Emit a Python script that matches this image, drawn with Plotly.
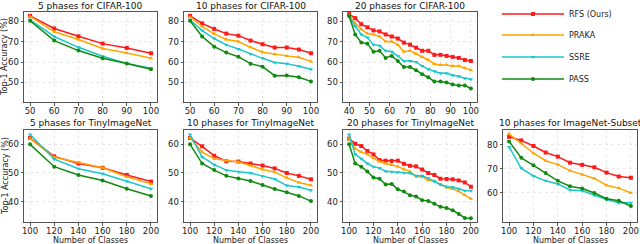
import plotly.graph_objects as go

# ---------------- data ----------------
methods = ["RFS (Ours)", "PRAKA", "SSRE", "PASS"]
colors = ["#ff1a1a", "#ffa500", "#1cc6cc", "#108a10"]
symbols = ["square", "triangle-up", "triangle-down", "circle"]

titles = ["5 phases for CIFAR-100", "10 phases for CIFAR-100", "20 phases for CIFAR-100",
          "5 phases for TinyImageNet", "10 phases for TinyImageNet", "20 phases for TinyImageNet",
          "10 phases for ImageNet-Subset"]
x_label = "Number of Classes"
y_label = "Top-1 Accuracy (%)"

x_c5 = [50, 60, 70, 80, 90, 100]
c5_rfs = [82.6, 76.4, 72.6, 69.0, 66.9, 64.3]
c5_praka = [82.3, 74.8, 71.0, 66.6, 64.4, 61.8]
c5_ssre = [80.7, 72.5, 67.2, 62.8, 59.3, 56.9]
c5_pass = [80.2, 70.5, 65.6, 61.8, 59.3, 56.4]

x_c10 = [50, 55, 60, 65, 70, 75, 80, 85, 90, 95, 100]
c10_rfs = [82.6, 78.9, 76.2, 73.9, 72.9, 70.5, 68.7, 67.1, 67.1, 66.1, 64.3]
c10_praka = [82.1, 77.4, 73.8, 71.0, 70.0, 67.2, 64.8, 63.8, 63.0, 62.3, 60.3]
c10_ssre = [80.7, 75.4, 71.5, 68.4, 66.4, 63.9, 61.8, 59.8, 59.2, 57.9, 56.4]
c10_pass = [80.2, 72.5, 67.5, 64.6, 62.6, 59.2, 57.7, 53.3, 53.4, 52.5, 50.5]

x_c20 = [40, 43, 46, 49, 52, 55, 58, 61, 64, 67, 70, 73, 76, 79, 82, 85, 88, 91, 94, 97, 100]
c20_rfs = [83.5, 81.5, 78.5, 77.0, 75.5, 75.0, 73.5, 72.5, 71.5, 69.5, 68.5, 67.0, 65.5, 65.5,
           63.5, 63.5, 63.0, 62.5, 62.0, 61.0, 60.5]
c20_praka = [83.0, 79.0, 76.0, 74.0, 73.5, 72.5, 70.0, 70.0, 68.5, 65.0, 65.5, 64.0, 62.5, 61.0,
             59.0, 58.5, 58.5, 58.0, 58.0, 57.0, 56.0]
c20_ssre = [82.5, 77.5, 73.5, 72.0, 68.5, 68.0, 65.5, 65.0, 63.0, 60.5, 60.5, 60.0, 58.0, 56.5,
            55.5, 54.5, 54.5, 53.5, 53.0, 52.0, 51.5]
c20_pass = [82.5, 73.5, 69.5, 69.0, 65.0, 65.5, 62.0, 63.0, 60.5, 57.5, 57.5, 56.0, 54.0, 52.5,
            50.5, 50.5, 50.0, 49.0, 48.5, 48.5, 47.0]

x_t5 = [100, 120, 140, 160, 180, 200]
t5_rfs = [62.2, 55.8, 53.3, 51.8, 49.3, 47.0]
t5_praka = [62.0, 55.5, 53.7, 51.8, 48.7, 46.2]
t5_ssre = [63.4, 54.8, 51.5, 49.7, 47.1, 44.5]
t5_pass = [60.0, 52.2, 49.3, 47.4, 44.5, 42.0]

x_t10 = [100, 110, 120, 130, 140, 150, 160, 170, 180, 190, 200]
t10_rfs = [62.2, 59.3, 56.0, 54.1, 54.0, 53.3, 52.6, 51.6, 50.0, 49.0, 47.8]
t10_praka = [62.2, 57.3, 55.0, 54.3, 53.8, 52.6, 51.2, 50.3, 48.3, 46.7, 45.7]
t10_ssre = [63.4, 55.6, 52.9, 51.0, 50.4, 50.0, 48.9, 47.9, 45.6, 45.1, 44.0]
t10_pass = [60.0, 53.3, 51.0, 49.0, 48.1, 47.2, 45.8, 44.4, 43.3, 42.0, 40.2]

x_t20 = [100, 105, 110, 115, 120, 125, 130, 135, 140, 145, 150, 155, 160, 165, 170, 175, 180,
         185, 190, 195, 200]
t20_rfs = [62.0, 60.2, 59.4, 57.7, 56.5, 54.5, 54.3, 54.2, 54.3, 53.2, 52.5, 52.3, 51.2, 50.0,
           49.3, 48.0, 47.9, 47.8, 47.4, 46.7, 45.2]
t20_praka = [62.0, 58.5, 57.3, 56.5, 55.2, 54.0, 53.3, 52.8, 52.3, 51.3, 50.5, 48.8, 48.7, 47.5,
             47.2, 46.0, 44.9, 44.5, 43.6, 42.3, 41.0]
t20_ssre = [63.4, 56.5, 55.0, 53.3, 52.2, 51.7, 50.6, 50.4, 50.3, 50.1, 49.9, 49.0, 49.0, 48.2,
            47.0, 46.0, 45.2, 45.0, 44.5, 43.8, 43.8]
t20_pass = [60.0, 53.3, 52.2, 50.5, 48.4, 48.0, 46.0, 46.2, 44.3, 43.5, 42.2, 41.8, 40.5, 40.2,
            39.3, 38.2, 37.8, 37.0, 35.7, 34.3, 34.2]

x_i10 = [100, 110, 120, 130, 140, 150, 160, 170, 180, 190, 200]
i10_rfs = [83.2, 81.7, 79.4, 76.7, 75.0, 72.5, 71.6, 70.6, 68.4, 66.8, 66.3]
i10_praka = [84.4, 80.5, 76.4, 73.3, 71.7, 69.2, 67.6, 66.0, 63.2, 62.0, 60.0]
i10_ssre = [79.0, 70.2, 67.0, 65.0, 63.7, 61.2, 60.9, 59.1, 57.3, 56.0, 56.0]
i10_pass = [81.3, 74.5, 71.4, 68.2, 65.0, 62.8, 61.8, 60.0, 57.6, 56.8, 54.6]

panels = [
    (x_c5, [c5_rfs, c5_praka, c5_ssre, c5_pass]),
    (x_c10, [c10_rfs, c10_praka, c10_ssre, c10_pass]),
    (x_c20, [c20_rfs, c20_praka, c20_ssre, c20_pass]),
    (x_t5, [t5_rfs, t5_praka, t5_ssre, t5_pass]),
    (x_t10, [t10_rfs, t10_praka, t10_ssre, t10_pass]),
    (x_t20, [t20_rfs, t20_praka, t20_ssre, t20_pass]),
    (x_i10, [i10_rfs, i10_praka, i10_ssre, i10_pass]),
]

# ---------------- layout ----------------
W, H = 640, 244
col_px = [(24, 157), (184, 317), (343, 477), (503, 637)]
row_px = [(12, 102), (130, 222)]
title_py = [5.5, 122.5]
pos = [(0, 0), (0, 1), (0, 2), (1, 0), (1, 1), (1, 2), (1, 3)]
xranges = [[47.5, 102.5], [47.5, 102.5], [37, 103], [95, 205], [95, 205], [95, 205], [95, 205]]
yranges = [[40.4, 84.5], [40.4, 84.5], [40.4, 84.5], [32.9, 65], [32.9, 65], [32.9, 65], [48, 86]]
xticks = [list(range(50, 101, 10)), list(range(50, 101, 10)), list(range(40, 101, 10)),
          list(range(100, 201, 20)), list(range(100, 201, 20)), list(range(100, 201, 20)),
          list(range(100, 201, 20))]
yticks = [[50, 60, 70, 80]] * 3 + [[40, 50, 60]] * 3 + [[60, 70, 80]]

FONT = "DejaVu Sans"
fig = go.Figure()
layout = dict(width=W, height=H, margin=dict(l=0, r=0, t=0, b=0, autoexpand=False),
              plot_bgcolor="white", paper_bgcolor="white",
              font=dict(family=FONT, size=8.5, color="#222"), annotations=[])

for i, (xs, series) in enumerate(panels):
    r, c = pos[i]
    n = i + 1
    xa = "x" if n == 1 else f"x{n}"
    ya = "y" if n == 1 else f"y{n}"
    for k, ys in enumerate(series):
        show = (i == 0)
        tr = dict(x=xs, y=ys, mode="lines+markers", name=methods[k],
                  line=dict(color=colors[k], width=1.5),
                  marker=dict(symbol=symbols[k], size=4, color=colors[k]),
                  xaxis=xa, yaxis=ya, showlegend=show)
        if show:
            tr["legend"] = "legend" if k == 0 else f"legend{k+1}"
        fig.add_trace(go.Scatter(**tr))
    x0, x1 = col_px[c]
    y0, y1 = row_px[r]
    axcommon = dict(showline=True, linecolor="#555", linewidth=1, mirror=True,
                    ticks="outside", ticklen=2.5, tickcolor="#555", automargin=False,
                    showgrid=True, gridcolor="#e8e8e8", griddash="dot", gridwidth=1,
                    zeroline=False, tickfont=dict(size=8.5, family=FONT, color="#222"))
    xdict = dict(domain=[x0 / W, x1 / W], range=xranges[i], tickvals=xticks[i],
                 anchor=ya, ticklabelstandoff=-2, **axcommon)
    ydict = dict(domain=[1 - y1 / H, 1 - y0 / H], range=yranges[i], tickvals=yticks[i],
                 anchor=xa, **axcommon)
    layout["xaxis" if n == 1 else f"xaxis{n}"] = xdict
    layout["yaxis" if n == 1 else f"yaxis{n}"] = ydict
    layout["annotations"].append(dict(
        text=titles[i], xref="paper", yref="paper", x=(x0 + x1) / 2 / W, y=1 - title_py[r] / H,
        xanchor="center", yanchor="middle", showarrow=False,
        font=dict(size=9, family=FONT, color="#111")))
    if r == 1:
        layout["annotations"].append(dict(
            text=x_label, xref="paper", yref="paper", x=(x0 + x1) / 2 / W, y=1 - 240.5 / H,
            xanchor="center", yanchor="middle", showarrow=False,
            font=dict(size=8, family=FONT, color="#222")))
    if c == 0:
        layout["annotations"].append(dict(
            text=y_label, xref="paper", yref="paper", x=5 / W, y=1 - (y0 + y1) / 2 / H,
            xanchor="center", yanchor="middle", showarrow=False, textangle=-90,
            font=dict(size=8, family=FONT, color="#222")))

leg_y = [14, 35, 57, 79]
for k in range(4):
    key = "legend" if k == 0 else f"legend{k+1}"
    layout[key] = dict(x=497 / W, y=1 - leg_y[k] / H, xanchor="left", yanchor="middle",
                       bgcolor="rgba(0,0,0,0)", itemwidth=62,
                       font=dict(size=8, family=FONT, color="#222"))

fig.update_layout(**layout)
fig.write_html("out.html", config={"displayModeBar": False},
               post_script="document.body.style.margin='0';document.body.style.padding='0';")
